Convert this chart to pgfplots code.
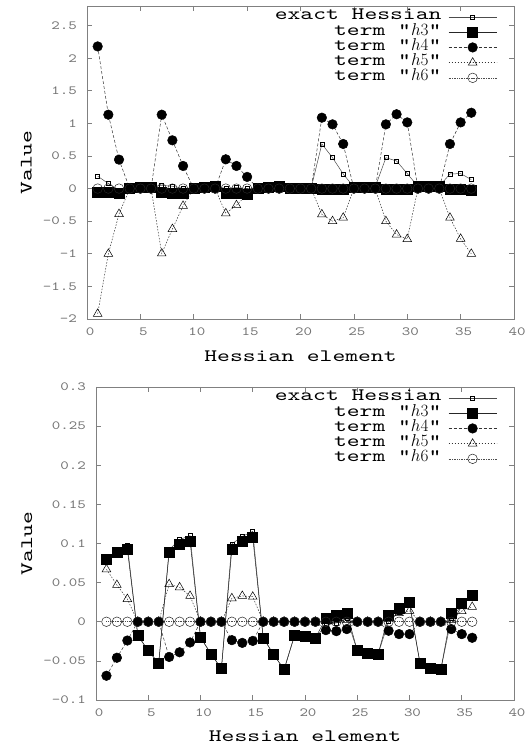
\documentclass[border=0pt]{standalone}
\usepackage{fontspec}
\usepackage{pgfplots}
\usepackage{pgfplotstable}
\pgfplotsset{compat=1.18}

% gnuplot-like typewriter look: Latin Modern Mono, stretched
\newfontfamily\gpfont{lmmono10-regular}[Extension=.otf,FakeStretch=1.3]
\newfontfamily\gpwide{lmmono10-regular}[Extension=.otf,FakeStretch=1.4]
\newcommand\tickfont{\gpfont\fontsize{12.5}{12.5}\selectfont}
\newcommand\labfont{\gpwide\fontsize{17.5}{17.5}\selectfont}

% top panel: x  h3  h4  h5  exact
\pgfplotstableread{
x  h3     h4     h5     ex
1  -0.050 2.180  -1.920 0.190
2  -0.050 1.133  -1.000 0.077
3  -0.077 0.444  -0.390 -0.020
4  0.005  0      0      0.005
5  0.015  0      0      0.015
6  0.025  0      0      0.025
7  -0.050 1.133  -0.995 0.050
8  -0.077 0.740  -0.620 0.035
9  -0.077 0.347  -0.265 0.005
10 0.010  0      0      0.010
11 0.022  0      0      0.022
12 0.035  0      0      0.035
13 -0.066 0.449  -0.380 0.003
14 -0.077 0.347  -0.255 0.015
15 -0.087 0.179  -0.090 0.002
16 0.010  0      0      0.010
17 0.022  0      0      0.022
18 0.035  0      0      0.035
19 0.010  0      0      0.010
20 0.011  0      0      0.011
21 0.012  0      0      0.012
22 -0.003 1.087  -0.395 0.684
23 -0.005 0.985  -0.500 0.474
24 -0.007 0.684  -0.447 0.224
25 0.022  0      0      0.022
26 0.024  0      0      0.024
27 0.025  0      0      0.025
28 -0.005 0.985  -0.500 0.474
29 -0.010 1.140  -0.705 0.423
30 -0.015 1.015  -0.775 0.230
31 0.032  0      0      0.032
32 0.035  0      0      0.035
33 0.037  0      0      0.037
34 -0.007 0.684  -0.447 0.224
35 -0.014 1.015  -0.770 0.230
36 -0.020 1.163  -1.000 0.138
}\toptab

% bottom panel
\pgfplotstableread{
x  h3      h4      h5     ex
1  0.0800  -0.0690 0.0670 0.0780
2  0.0890  -0.0460 0.0470 0.0900
3  0.0930  -0.0240 0.0290 0.0980
4  -0.0175 0       0      -0.0175
5  -0.0370 0       0      -0.0370
6  -0.0530 0       0      -0.0530
7  0.0890  -0.0450 0.0480 0.0920
8  0.0996  -0.0390 0.0440 0.1050
9  0.1030  -0.0265 0.0330 0.1100
10 -0.0200 0       0      -0.0200
11 -0.0410 0       0      -0.0410
12 -0.0600 0       0      -0.0600
13 0.0930  -0.0235 0.0300 0.0995
14 0.1030  -0.0270 0.0330 0.1090
15 0.1080  -0.0245 0.0320 0.1155
16 -0.0205 0       0      -0.0205
17 -0.0420 0       0      -0.0420
18 -0.0610 0       0      -0.0610
19 -0.0175 0       0      -0.0175
20 -0.0190 0       0      -0.0190
21 -0.0205 0       0      -0.0205
22 0.0043  -0.0107 0.0020 -0.0044
23 0.0085  -0.0120 0.0020 -0.0015
24 0.0115  -0.0094 0.0020 0.0041
25 -0.0367 0       0      -0.0367
26 -0.0400 0       0      -0.0400
27 -0.0410 0       0      -0.0410
28 0.0077  -0.0115 0.0040 0.0002
29 0.0170  -0.0158 0.0110 0.0122
30 0.0244  -0.0158 0.0140 0.0226
31 -0.0526 0       0      -0.0526
32 -0.0590 0       0      -0.0590
33 -0.0610 0       0      -0.0610
34 0.0115  -0.0094 0.0020 0.0041
35 0.0235  -0.0158 0.0137 0.0214
36 0.0340  -0.0205 0.0190 0.0325
}\bottab

\pgfplotsset{
  gp/.style={
    scale only axis,
    xmin=0, xmax=40,
    xtick={0,5,...,40},
    xticklabels={0,5,10,15,20,25,30,35,40},
    axis line style={black!50, line width=0.8bp},
    tick style={black!50, line width=0.6bp},
    tick align=inside,
    major tick length=5bp,
    ticklabel style={font=\tickfont, text=black!55},
    xticklabel style={inner sep=0pt, yshift=-9bp, xshift=3bp},
    yticklabel style={inner sep=0pt, xshift=-10bp},
    label style={font=\labfont},
    xlabel={Hessian element},
    ylabel={Value},
    legend plot pos=right,
    legend image code/.code={
      \draw[mark repeat=2,mark phase=2,##1]
        plot coordinates {(0bp,0bp) (24bp,0bp) (48bp,0bp)};},
    legend style={draw=none, fill=none, inner sep=0pt, outer sep=0pt,
      font=\labfont, column sep=7bp, row sep=0pt,
      cells={anchor=east},
      nodes={inner sep=0pt, text height=10.5bp, text depth=4.7bp}},
    every axis plot/.append style={line width=0.5bp},
  },
  exact/.style={solid, draw=black!70, mark=square, mark size=2bp,
    mark options={solid, draw=black, line width=0.5bp}},
  hthree/.style={solid, draw=black!85, mark=square*, mark size=5bp,
    mark options={solid, black}},
  hfour/.style={dash pattern=on 3bp off 2bp, draw=black!80, mark=*,
    mark size=4.8bp, mark options={solid, black}},
  hfive/.style={dash pattern=on 1.5bp off 1.5bp, draw=black!80,
    mark=triangle, mark size=5bp, mark options={solid, black, line width=0.5bp}},
  hsix/.style={dash pattern=on 0.7bp off 1bp, draw=black!70, mark=o,
    mark size=4.8bp, mark options={solid, black!85, line width=0.5bp}},
}

\begin{document}
\begin{tikzpicture}
\useasboundingbox (0,0) rectangle (531bp,747bp);

\begin{axis}[gp,
  at={(87bp,428bp)}, anchor=south west,
  width=427bp, height=313bp,
  ymin=-2, ymax=2.8,
  ytick={-2,-1.5,-1,-0.5,0,0.5,1,1.5,2,2.5},
  yticklabels={-2,-1.5,-1,-0.5,0,0.5,1,1.5,2,2.5},
  xlabel style={at={(axis description cs:0.5,-0.135)}, anchor=base},
  ylabel style={at={(axis description cs:-0.1295,0.5)}, anchor=base},
  legend style={at={(0.960,0.989)}, anchor=north east},
]
\addplot[exact] table[x=x,y=ex]{\toptab};
\addlegendentry{exact Hessian}
\addplot[hthree] table[x=x,y=h3]{\toptab};
\addlegendentry{term "$h3$"}
\addplot[hfour] table[x=x,y=h4]{\toptab};
\addlegendentry{term "$h4$"}
\addplot[hfive] table[x=x,y=h5]{\toptab};
\addlegendentry{term "$h5$"}
\addplot[hsix] table[x=x,y expr=0*\thisrow{h3}]{\toptab};
\addlegendentry{term "$h6$"}
\end{axis}

\begin{axis}[gp,
  at={(96bp,47bp)}, anchor=south west,
  width=418bp, height=313bp,
  ymin=-0.1, ymax=0.3,
  ytick={-0.1,-0.05,0,0.05,0.1,0.15,0.2,0.25,0.3},
  yticklabels={-0.1,-0.05,0,0.05,0.1,0.15,0.2,0.25,0.3},
  xlabel style={at={(axis description cs:0.5,-0.133)}, anchor=base},
  ylabel style={at={(axis description cs:-0.153,0.5)}, anchor=base},
  legend style={at={(0.959,0.989)}, anchor=north east},
]
\addplot[exact] table[x=x,y=ex]{\bottab};
\addlegendentry{exact Hessian}
\addplot[hthree] table[x=x,y=h3]{\bottab};
\addlegendentry{term "$h3$"}
\addplot[hfour] table[x=x,y=h4]{\bottab};
\addlegendentry{term "$h4$"}
\addplot[hfive] table[x=x,y=h5]{\bottab};
\addlegendentry{term "$h5$"}
\addplot[hsix] table[x=x,y expr=0*\thisrow{h3}]{\bottab};
\addlegendentry{term "$h6$"}
\end{axis}
\end{tikzpicture}
\end{document}
